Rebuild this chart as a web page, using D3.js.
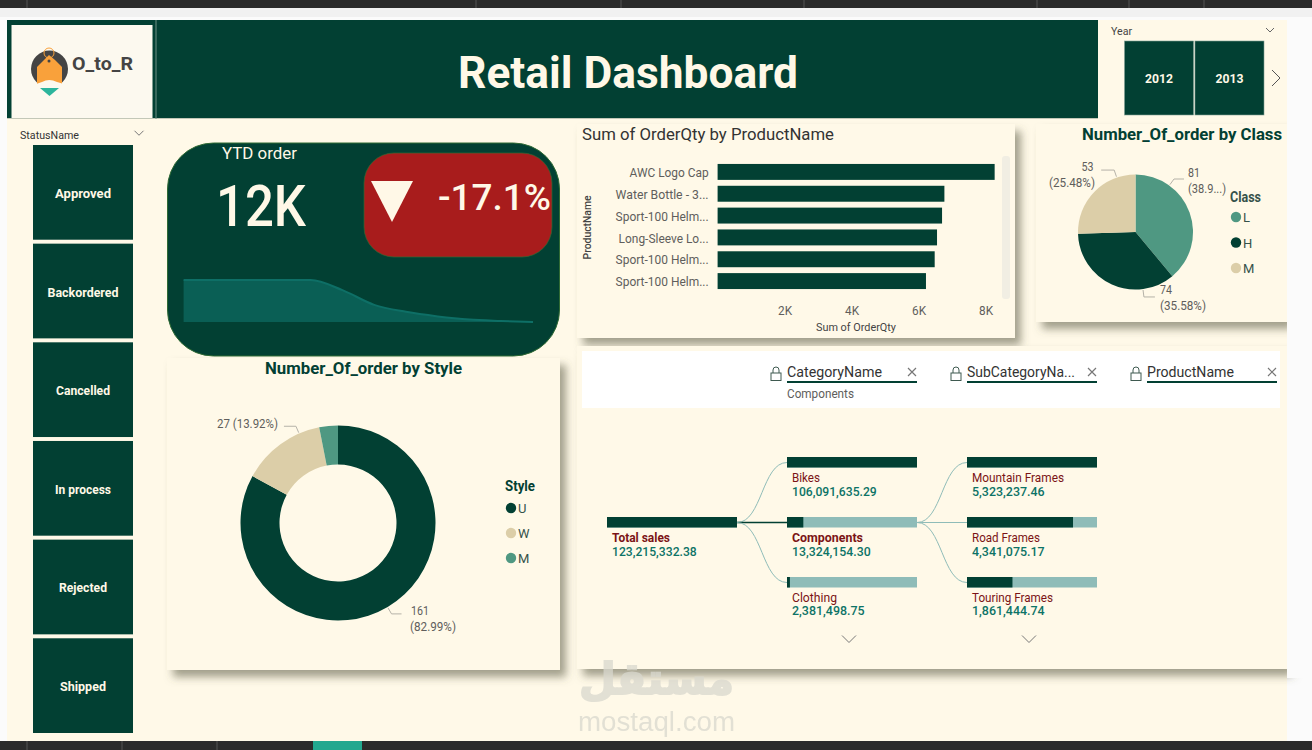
<!DOCTYPE html>
<html>
<head>
<meta charset="utf-8">
<script src="https://cdn.jsdelivr.net/npm/d3@7"></script>
<style>
  html, body { margin: 0; padding: 0; background: #fff; overflow: hidden; }
  text { font-family: Roboto, "Noto Sans", sans-serif; }
</style>
</head>
<body>
<div id="chart"></div>
<script>
const statusNames = ["Approved", "Backordered", "Cancelled", "In process", "Rejected", "Shipped"];
const yearNames = ["2012", "2013"];

const sparkMonths = [1, 2, 3, 4, 5, 6, 7, 8, 9, 10, 11, 12];
const sparkValues = [12, 12, 12, 12, 12, 9.1, 4.9, 2.9, 1.6, 0.7, 0.3, 0];

const productNames = ["AWC Logo Cap", "Water Bottle - 3...", "Sport-100 Helm...", "Long-Sleeve Lo...", "Sport-100 Helm...", "Sport-100 Helm..."];
const productQty = [8270, 6770, 6700, 6550, 6480, 6220];
const qtyTicks = [2000, 4000, 6000, 8000];

const classNames = ["L", "H", "M"];
const classValues = [81, 74, 53];
const classLabels = [["81", "(38.9...)"], ["74", "(35.58%)"], ["53", "(25.48%)"]];

const styleNames = ["U", "W", "M"];
const styleValues = [161, 27, 6];

const treeRoot = { name: "Total sales", value: 123215332.38 };
const categoryNames = ["Bikes", "Components", "Clothing"];
const categoryValues = [106091635.29, 13324154.30, 2381498.75];
const subCategoryNames = ["Mountain Frames", "Road Frames", "Touring Frames"];
const subCategoryValues = [5323237.46, 4341075.17, 1861444.74];
const filterNames = ["CategoryName", "SubCategoryNa...", "ProductName"];

const GREEN = "#024033", CREAM = "#FFF9E8", TEAL = "#4F9882", TAN = "#DCCEA8", PALE = "#8FBCB8";
const GREY = "#605E5C", RED = "#7B1416", VAL = "#0D7366";

// measured widths of the narrow report font
const statusWidths = { Approved: 56, Backordered: 71, Cancelled: 54, "In process": 56, Rejected: 48, Shipped: 46 };
const nameWidths = { "Total sales": 58, Bikes: 28, Components: 71, Clothing: 45, "Mountain Frames": 92, "Road Frames": 68, "Touring Frames": 81 };

const svg = d3.select("#chart").append("svg").attr("width", 1312).attr("height", 750).style("display", "block");

const shadow = svg.append("defs").append("filter").attr("id", "shadow")
  .attr("x", "-5%").attr("y", "-5%").attr("width", "112%").attr("height", "115%");
shadow.append("feDropShadow").attr("dx", 6).attr("dy", 7).attr("stdDeviation", 4)
  .attr("flood-color", "#55553f").attr("flood-opacity", 0.55);

function label(g, str, x, y, size, color, width, opts = {}) {
  const t = g.append("text").attr("x", x).attr("y", y)
    .attr("font-size", size).attr("fill", color).text(str);
  if (opts.bold) t.attr("font-weight", 700);
  if (opts.weight) t.attr("font-weight", opts.weight);
  if (opts.anchor) t.attr("text-anchor", opts.anchor);
  if (width) t.attr("textLength", width).attr("lengthAdjust", "spacingAndGlyphs");
  return t;
}

function chevronDown(g, x, y, size, color) {
  g.append("path")
    .attr("d", d3.line()([[x - size, y - size / 2], [x, y + size / 2], [x + size, y - size / 2]]))
    .attr("fill", "none").attr("stroke", color).attr("stroke-width", 1);
}

// window frame
svg.append("rect").attr("width", 1312).attr("height", 750).attr("fill", "#fbfbfb");
svg.append("rect").attr("width", 1312).attr("height", 8).attr("fill", "#2b2b2b");
svg.append("rect").attr("y", 8).attr("width", 1312).attr("height", 9).attr("fill", "#f1f1f1");
svg.append("rect").attr("x", 7).attr("y", 20).attr("width", 1280).attr("height", 722).attr("fill", CREAM);
svg.append("rect").attr("y", 741).attr("width", 1312).attr("height", 9).attr("fill", "#2b2b2b");
svg.append("rect").attr("x", 313).attr("y", 741).attr("width", 49).attr("height", 9).attr("fill", "#22a88f");
[27, 476, 621, 804, 1037, 1129, 1204].forEach((x) => svg.append("line").attr("x1", x).attr("x2", x).attr("y1", 0).attr("y2", 8).attr("stroke", "#555"));
[27, 122, 217].forEach((x) => svg.append("line").attr("x1", x).attr("x2", x).attr("y1", 741).attr("y2", 750).attr("stroke", "#555"));

// header
const header = svg.append("g");
header.append("rect").attr("x", 7).attr("y", 20).attr("width", 1091).attr("height", 98).attr("fill", GREEN);
header.append("line").attr("x1", 7).attr("x2", 1098).attr("y1", 118.5).attr("y2", 118.5).attr("stroke", "#c3c8b8");
header.append("rect").attr("x", 11.5).attr("y", 25).attr("width", 141).attr("height", 93).attr("fill", "#FCF9EF");
header.append("line").attr("x1", 156).attr("x2", 156).attr("y1", 20).attr("y2", 119).attr("stroke", "#6d8f84");
label(header, "Retail Dashboard", 458, 88, 45, "#FFF8E7", 340, { bold: true });

// logo
const logo = header.append("g");
logo.append("circle").attr("cx", 49.5).attr("cy", 69).attr("r", 18.5).attr("fill", "#444");
logo.append("path").attr("d", "M37,84 V67 L44,60 L49,55 L55,60 L62,67 V84 Z").attr("fill", "#F9A13B");
logo.append("path").attr("d", "M30,90 V87 Q38,83 42,82 Q49,78 57,82 Q62,83 70,87 V90 Z").attr("fill", "#FCF9EF");
logo.append("circle").attr("cx", 49).attr("cy", 53).attr("r", 5).attr("fill", "none").attr("stroke", "#F9A13B");
logo.append("circle").attr("cx", 49).attr("cy", 61).attr("r", 1.5).attr("fill", "#444");
logo.append("path").attr("d", "M40,88 H59 L49.5,96 Z").attr("fill", "#2CB59C");
label(header, "O_to_R", 72, 70, 18, "#444", 61, { bold: true });

// year slicer
label(svg, "Year", 1111, 35, 11, "#444", 21);
chevronDown(svg, 1270, 30, 4, "#666");
const yearX = d3.scaleBand().domain(yearNames).range([1124.5, 1264]).paddingInner(0.02);
svg.selectAll(".year").data(yearNames).enter().append("rect").attr("class", "year")
  .attr("x", (d) => yearX(d)).attr("y", 41).attr("width", yearX.bandwidth()).attr("height", 74)
  .attr("fill", GREEN).attr("stroke", "#7f9f94").attr("stroke-width", 0.6);
yearNames.forEach((d) => label(svg, d, yearX(d) + yearX.bandwidth() / 2, 83, 13, "#FFF8E7", 28, { bold: true, anchor: "middle" }));
svg.append("path").attr("d", d3.line()([[1272, 70], [1280, 78], [1272, 86]]))
  .attr("fill", "none").attr("stroke", "#555").attr("stroke-width", 1);

// status slicer
label(svg, "StatusName", 20, 139, 11, "#333", 59);
chevronDown(svg, 139, 133, 4.5, "#777");
const statusY = d3.scaleBand().domain(statusNames).range([145, 733]).paddingInner(0.04).paddingOuter(0);
statusNames.forEach((d) => {
  svg.append("rect").attr("x", 33).attr("y", statusY(d)).attr("width", 100).attr("height", statusY.bandwidth()).attr("fill", GREEN);
  label(svg, d, 83, statusY(d) + statusY.bandwidth() / 2 + 5.5, 13, "#FFF8E7", statusWidths[d], { bold: true, anchor: "middle" });
});

// YTD card
const kpi = svg.append("g");
kpi.append("rect").attr("x", 167.5).attr("y", 143).attr("width", 392).attr("height", 213).attr("rx", 46).attr("ry", 46)
  .attr("fill", GREEN).attr("stroke", "#2f6a34").attr("stroke-width", 1);
label(kpi, "YTD order", 222, 159, 16, "#FFF8E7", 75);
label(kpi, "12K", 216, 226, 57, "#FFF8E7", 90, { weight: 500 });
kpi.append("rect").attr("x", 364).attr("y", 153).attr("width", 188).attr("height", 104).attr("rx", 30).attr("ry", 30)
  .attr("fill", "#A81C1C").attr("stroke", "#2f6a34").attr("stroke-width", 0.7);
kpi.append("path").attr("d", d3.line()([[371, 181], [413, 181], [392, 222]]) + "Z").attr("fill", "#FFF8E7");
label(kpi, "-17.1%", 438, 210, 37, "#FFF8E7", 113, { weight: 500 });

const sparkX = d3.scaleLinear().domain([1, 12]).range([183.6, 533]);
const sparkY = d3.scaleLinear().domain([0, 12]).range([322, 280]);
kpi.append("path").datum(sparkValues)
  .attr("d", d3.area().x((d, i) => sparkX(sparkMonths[i])).y0(sparkY(0)).y1((d) => sparkY(d)).curve(d3.curveMonotoneX))
  .attr("fill", "#0A5F55");
kpi.append("path").datum(sparkValues)
  .attr("d", d3.line().x((d, i) => sparkX(sparkMonths[i])).y((d) => sparkY(d)).curve(d3.curveMonotoneX))
  .attr("fill", "none").attr("stroke", "#0E6F66").attr("stroke-width", 2);

// cards
const cards = [[577, 124, 438, 214], [1036, 124, 251, 198], [167, 358, 393, 312], [577, 346, 710, 323]];
svg.selectAll(".card").data(cards).enter().append("rect").attr("class", "card")
  .attr("x", (d) => d[0]).attr("y", (d) => d[1]).attr("width", (d) => d[2]).attr("height", (d) => d[3])
  .attr("fill", CREAM).attr("filter", "url(#shadow)");
svg.append("rect").attr("x", 1287).attr("y", 118).attr("width", 25).attr("height", 560).attr("fill", "#fbfbfb");

// bar chart
const bars = svg.append("g");
label(bars, "Sum of OrderQty by ProductName", 582, 140, 17, "#333", 252);
const barX = d3.scaleLinear().domain([0, 8000]).range([717.6, 985.6]);
const barY = d3.scaleBand().domain(d3.range(productNames.length)).range([161, 292]).padding(0.27).paddingOuter(0.135);
bars.selectAll(".bar").data(productQty).enter().append("rect").attr("class", "bar")
  .attr("x", barX(0)).attr("y", (d, i) => barY(i))
  .attr("width", (d) => barX(d) - barX(0)).attr("height", barY.bandwidth()).attr("fill", GREEN);

const yAxis = bars.append("g").attr("transform", "translate(717.6,1)")
  .call(d3.axisLeft(barY).tickSize(0).tickPadding(9).tickFormat((i) => productNames[i]));
yAxis.select(".domain").remove();
yAxis.selectAll("text").attr("font-size", 13).attr("fill", GREY).style("font-family", "Roboto")
  .attr("textLength", (i) => i === 0 ? 79 : (i === 3 ? 90 : 93)).attr("lengthAdjust", "spacingAndGlyphs");

const xAxis = bars.append("g").attr("transform", "translate(0,303)")
  .call(d3.axisBottom(barX).tickValues(qtyTicks).tickSize(0).tickFormat((d) => d / 1000 + "K"));
xAxis.select(".domain").remove();
xAxis.selectAll("text").attr("font-size", 13).attr("fill", GREY).style("font-family", "Roboto")
  .attr("textLength", 14).attr("lengthAdjust", "spacingAndGlyphs");

label(bars, "Sum of OrderQty", 856, 331, 11, "#444", 80, { anchor: "middle" });
label(bars, "ProductName", 0, 0, 10, "#444", 64, { anchor: "middle", weight: 500 })
  .attr("transform", "translate(591,227.5) rotate(-90)");
bars.append("rect").attr("x", 1002).attr("y", 156).attr("width", 8).attr("height", 143).attr("rx", 3).attr("fill", "#F1EEE3");

// pies
const classColor = d3.scaleOrdinal().domain(classNames).range([TEAL, GREEN, TAN]);
const styleColor = d3.scaleOrdinal().domain(styleNames).range([GREEN, TAN, TEAL]);
const pieGen = d3.pie().sort(null).value((d) => d);

function legend(title, names, color, x, y0, step, titleY, titleW, titleColor) {
  label(svg, title, x - 6, titleY, 15, titleColor, titleW, { bold: true });
  names.forEach((n, i) => {
    svg.append("circle").attr("cx", x).attr("cy", y0 + i * step).attr("r", 5.2).attr("fill", color(n));
    label(svg, n, x + 7, y0 + i * step + 5, 13, "#35524a");
  });
}

// leader line leaves the slice at the given angle (degrees from top), then runs level to the label
function leader(g, cx, cy, r, deg, run) {
  const angle = deg * Math.PI / 180;
  const out = (k) => [cx + Math.sin(angle) * (r + k), cy - Math.cos(angle) * (r + k)];
  const a = out(1), b = out(8);
  g.append("path").attr("d", d3.line()([a, b, [b[0] + run, b[1]]]))
    .attr("fill", "none").attr("stroke", "#b5b2a8").attr("stroke-width", 1);
}

// class pie
const classG = svg.append("g");
label(classG, "Number_Of_order by Class", 1082, 140, 17, GREEN, 200, { bold: true });
const classCenter = [1135.5, 232], classR = 57.5;
classG.selectAll(".slice").data(pieGen(classValues)).enter().append("path").attr("class", "slice")
  .attr("transform", `translate(${classCenter})`)
  .attr("d", d3.arc().innerRadius(0).outerRadius(classR))
  .attr("fill", (d, i) => classColor(classNames[i]));
const classLabelPos = [[1188, 177, 1188], [1160, 294, 1160], [1081.6, 171, 1049]];
const classLeaders = [[36, 10], [172.6, 11], [-19, -13]];
classLabels.forEach((d, i) => {
  leader(classG, classCenter[0], classCenter[1], classR, classLeaders[i][0], classLeaders[i][1]);
  label(classG, d[0], classLabelPos[i][0], classLabelPos[i][1], 13, GREY, 12);
  label(classG, d[1], classLabelPos[i][2], classLabelPos[i][1] + 16, 13, GREY, i === 0 ? 38 : 46);
});
legend("Class", classNames, classColor, 1236, 217, 25.5, 202, 31, "#35524a");

// style donut
const styleG = svg.append("g");
label(styleG, "Number_Of_order by Style", 265, 374, 17, GREEN, 197, { bold: true });
const styleCenter = [338, 523], styleR = 97.5;
styleG.selectAll(".slice").data(pieGen(styleValues)).enter().append("path").attr("class", "slice")
  .attr("transform", `translate(${styleCenter})`)
  .attr("d", d3.arc().innerRadius(58.5).outerRadius(styleR))
  .attr("fill", (d, i) => styleColor(styleNames[i]));
const total = d3.sum(styleValues);
const pct = (v) => "(" + (v / total * 100).toFixed(2) + "%)";
leader(styleG, styleCenter[0], styleCenter[1], styleR, 149.5, 10);
leader(styleG, styleCenter[0], styleCenter[1], styleR, -23.5, -12);
label(styleG, styleValues[1] + " " + pct(styleValues[1]), 217, 428, 13, GREY, 61);
label(styleG, String(styleValues[0]), 411, 615, 13, GREY, 18);
label(styleG, pct(styleValues[0]), 410, 631, 13, GREY, 46);
legend("Style", styleNames, styleColor, 511, 508, 25, 491, 30, GREEN);

// decomposition tree filters
const tree = svg.append("g");
tree.append("rect").attr("x", 582).attr("y", 351).attr("width", 698).attr("height", 57).attr("fill", "#fff");
const levelX = d3.scalePoint().domain([0, 1, 2, 3]).range([607, 1147]);
const barW = 130;
filterNames.forEach((n, i) => {
  const x = levelX(i + 1);
  label(tree, n, x, 377, 15, "#333", i === 1 ? 108 : (i === 0 ? 95 : 87));
  tree.append("line").attr("x1", x).attr("x2", x + barW).attr("y1", 382).attr("y2", 382).attr("stroke", GREEN).attr("stroke-width", 2);
  tree.append("rect").attr("x", x - 16).attr("y", 373).attr("width", 10).attr("height", 7.5).attr("fill", "none").attr("stroke", "#3f5a50");
  tree.append("path").attr("d", `M${x - 14},373 v-3 a3,3 0 0 1 6,0 v3`).attr("fill", "none").attr("stroke", "#3f5a50");
  tree.append("path").attr("d", d3.line()([[x + 121, 368], [x + 129, 376]]) + d3.line()([[x + 129, 368], [x + 121, 376]]))
    .attr("stroke", "#777").attr("stroke-width", 1.2).attr("fill", "none");
});
label(tree, "Components", levelX(1), 398, 13, GREY, 67);

// decomposition tree nodes
const rowY = d3.scalePoint().domain([0, 1, 2]).range([462.5, 582.5]);
const fmt = d3.format(",.2f");
const link = d3.linkHorizontal();

function node(x, y, name, value, max, selected, numberY) {
  const w = d3.scaleLinear().domain([0, max]).range([0, barW]);
  tree.append("rect").attr("x", x).attr("y", y - 5.5).attr("width", barW).attr("height", 10.5).attr("fill", PALE);
  tree.append("rect").attr("x", x).attr("y", y - 5.5).attr("width", w(value)).attr("height", 10.5).attr("fill", GREEN);
  label(tree, name, x + 5, y + 19, 13, RED, nameWidths[name], { bold: selected });
  label(tree, fmt(value), x + 5, numberY, 13, VAL, fmt(value).length * 6.05, { weight: 500 });
}

function links(x0, x1, activeRow, activeColor, width) {
  rowY.domain().forEach((r) => {
    tree.append("path")
      .attr("d", link({ source: [x0, rowY(1)], target: [x1, rowY(r)] }))
      .attr("fill", "none")
      .attr("stroke", r === activeRow ? activeColor : PALE)
      .attr("stroke-width", r === activeRow ? width : 1);
  });
}

links(levelX(0) + barW, levelX(1), 1, GREEN, 1.6);
links(levelX(1) + barW, levelX(2), 1, PALE, 1.2);

const numberYs = [496, 556, 615];
node(levelX(0), rowY(1), treeRoot.name, treeRoot.value, treeRoot.value, true, 556);
categoryNames.forEach((n, i) => node(levelX(1), rowY(i), n, categoryValues[i], d3.max(categoryValues), i === 1, numberYs[i]));
subCategoryNames.forEach((n, i) => node(levelX(2), rowY(i), n, subCategoryValues[i], d3.max(subCategoryValues), false, numberYs[i]));
chevronDown(tree, levelX(1) + 62, 639, 7, "#777");
chevronDown(tree, levelX(2) + 62, 639, 7, "#777");

// watermark
const mark = svg.append("g").attr("opacity", 0.75);
mark.append("text").attr("x", 656.5).attr("y", 694).attr("text-anchor", "middle")
  .attr("font-size", 44).attr("font-weight", 700).attr("fill", "#D9D8CE").attr("stroke", "#D9D8CE").attr("stroke-width", 2)
  .attr("textLength", 155).attr("lengthAdjust", "spacingAndGlyphs")
  .style("font-family", "DejaVu Sans").text("مستقل");
mark.append("text").attr("x", 578).attr("y", 731).attr("font-size", 27).attr("fill", "#D9D8CE")
  .attr("textLength", 157).attr("lengthAdjust", "spacingAndGlyphs")
  .style("font-family", "Liberation Sans").text("mostaql.com");
</script>
</body>
</html>
